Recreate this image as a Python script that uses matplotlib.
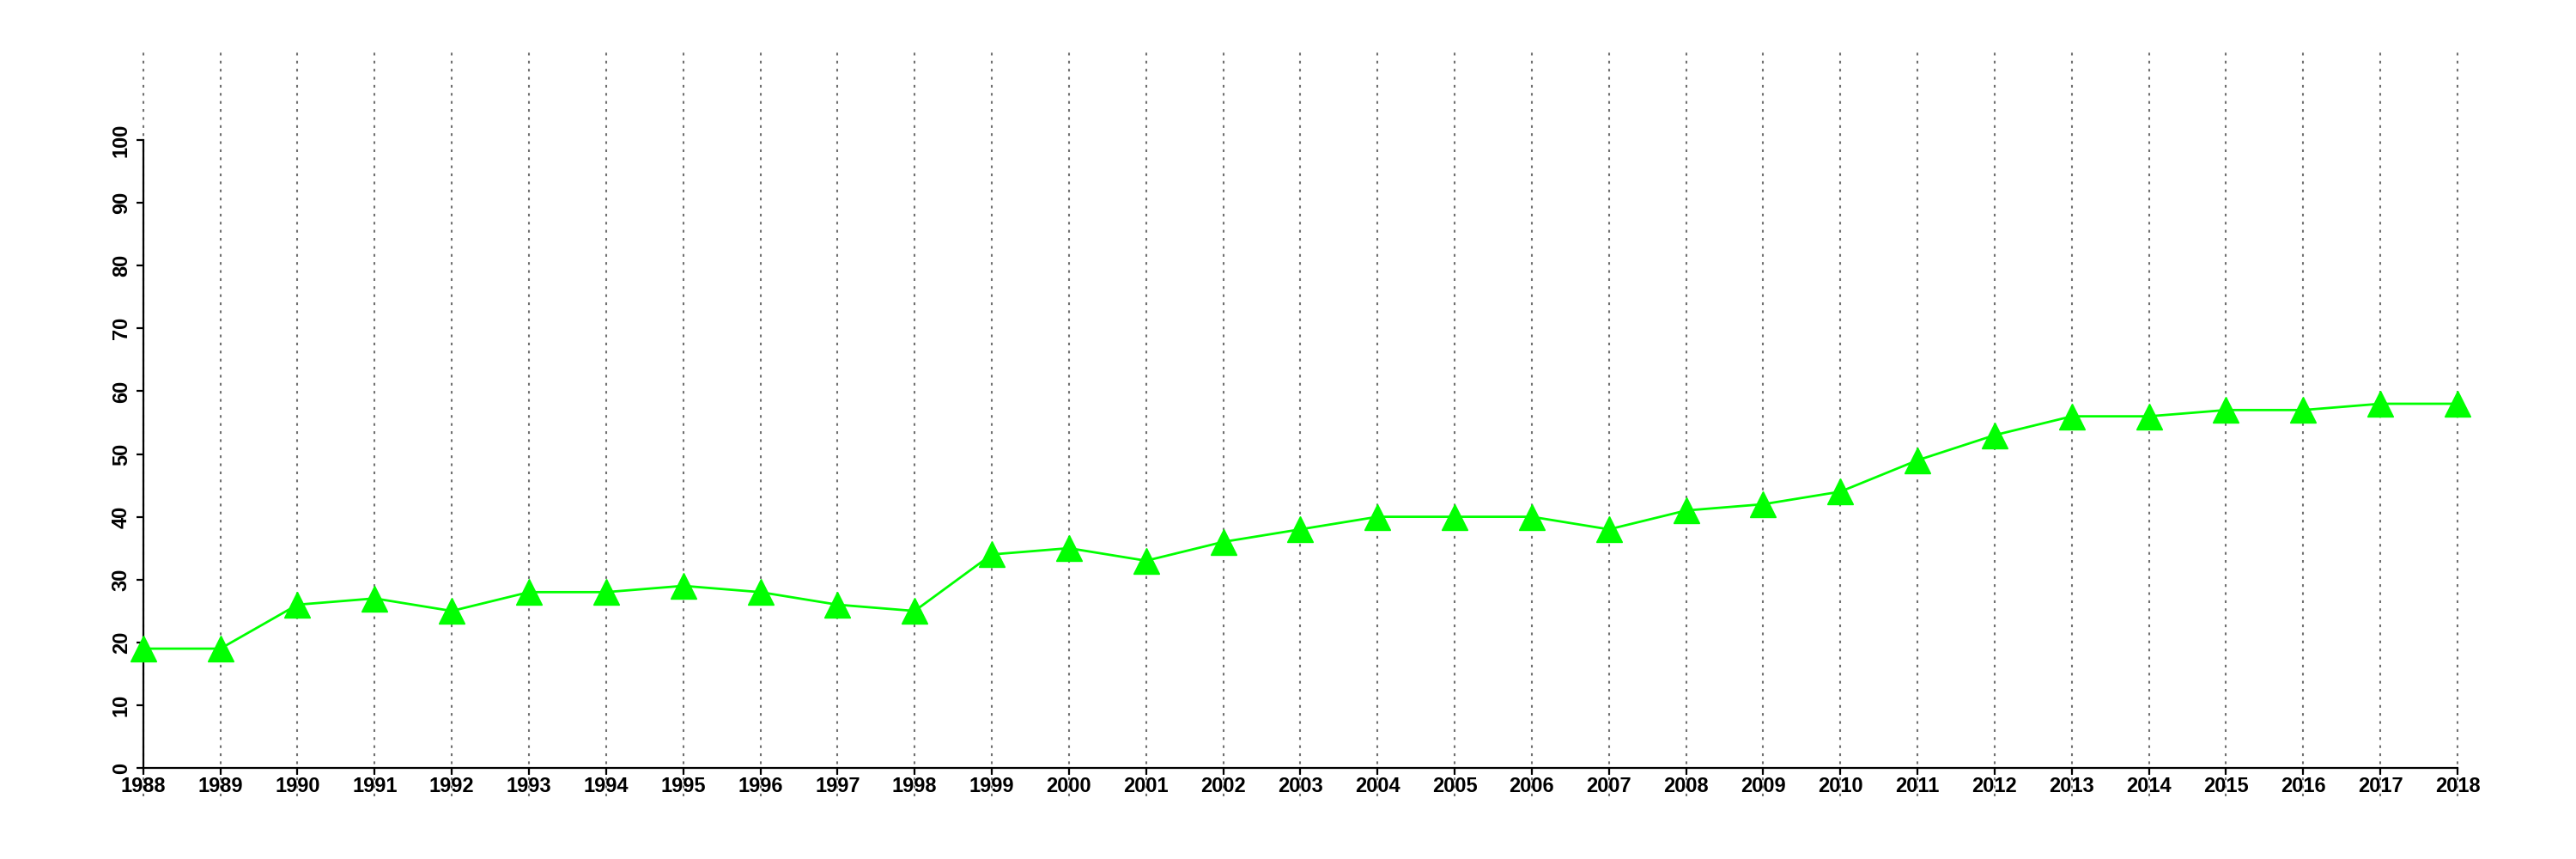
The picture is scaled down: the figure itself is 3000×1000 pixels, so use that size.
import matplotlib
matplotlib.use('Agg')
from matplotlib import pyplot as plt

years = list(range(1988, 2019))
values = [19, 19, 26, 27, 25, 28, 28, 29, 28, 26, 25, 34, 35, 33, 36, 38,
          40, 40, 40, 38, 41, 42, 44, 49, 53, 56, 56, 57, 57, 58, 58]
yticks = list(range(0, 101, 10))

plt.rcParams['font.family'] = ['Liberation Sans', 'DejaVu Sans']
plt.rcParams['font.weight'] = 'bold'

fig = plt.figure(figsize=(30, 10), dpi=100)
ax = fig.add_axes([0.0556, 0.106, 0.8984, 0.731])

# dotted year lines, running above and below the plot box
for yr in years:
    ax.axvline(yr, ymin=-0.045, ymax=1.142, color='#707070', lw=1.5,
               linestyle=(0, (1.5, 3)), clip_on=False, zorder=1)

ax.plot(years, values, color='#00ff00', lw=2, marker='^', markersize=21,
        zorder=3, clip_on=False)

ax.set_xlim(1988, 2018)
ax.set_ylim(0, 100)
ax.set_xticks(years)
ax.set_xticklabels([str(y) for y in years], fontsize=17, fontweight='bold')
ax.set_yticks(yticks)
ax.set_yticklabels([str(v) for v in yticks], fontsize=17, fontweight='bold',
                   rotation=90, va='center')

for side in ['top', 'right']:
    ax.spines[side].set_visible(False)
ax.spines['left'].set_linewidth(1.6)
ax.spines['bottom'].set_linewidth(1.6)
ax.tick_params(axis='both', width=1.6, length=6, direction='out')
ax.tick_params(axis='x', pad=1)
ax.tick_params(axis='y', pad=4)

fig.savefig('out.png', dpi=100)
